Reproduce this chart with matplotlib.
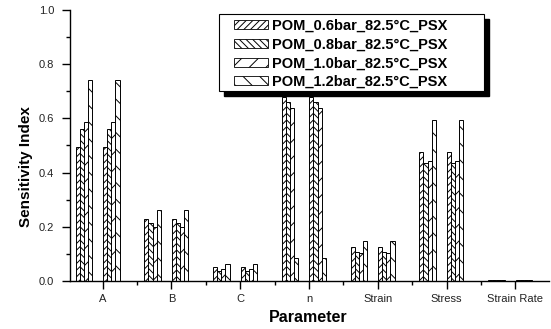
"""
plot.py - grouped, hatched bar chart of sensitivity index per model parameter
for four POM pressure settings (each series drawn twice per parameter slot).
"""

import numpy as np
import matplotlib
matplotlib.use("Agg")
import matplotlib.pyplot as plt
from matplotlib.patches import Patch, Rectangle
from matplotlib.ticker import FixedLocator, MultipleLocator, FormatStrFormatter

plt.rcParams["font.family"] = ["Liberation Sans", "DejaVu Sans"]
plt.rcParams["hatch.linewidth"] = 0.7

# ---------------------------------------------------------------------------
# Data
# ---------------------------------------------------------------------------

parameters = ["A", "B", "C", "n", "Strain", "Stress", "Strain Rate"]

series_labels = [
    "POM_0.6bar_82.5°C_PSX",
    "POM_0.8bar_82.5°C_PSX",
    "POM_1.0bar_82.5°C_PSX",
    "POM_1.2bar_82.5°C_PSX",
]

si_06bar = [0.493, 0.229, 0.052, 0.678, 0.124, 0.475, 0.002]
si_08bar = [0.560, 0.213, 0.037, 0.662, 0.108, 0.437, 0.002]
si_10bar = [0.587, 0.198, 0.043, 0.637, 0.102, 0.443, 0.002]
si_12bar = [0.740, 0.261, 0.062, 0.086, 0.148, 0.594, 0.002]

series_values = [si_06bar, si_08bar, si_10bar, si_12bar]
hatches = ["/////", "\\\\\\\\\\", "//", "\\\\"]

# ---------------------------------------------------------------------------
# Plot
# ---------------------------------------------------------------------------

fig = plt.figure(figsize=(5.51, 3.29), dpi=100)
ax = fig.add_axes([70 / 551, 48 / 329, 479 / 551, 271 / 329])

x = np.arange(1, len(parameters) + 1)
bar_w = 0.06
group_starts = [-0.395, 0.005]   # each parameter slot holds the four series twice

for start in group_starts:
    for i, (vals, hatch) in enumerate(zip(series_values, hatches)):
        ax.bar(x + start + (i + 0.5) * bar_w, vals, width=bar_w,
               facecolor="white", edgecolor="black", linewidth=0.7,
               hatch=hatch, zorder=2)

ax.set_xlim(0.525, 7.49)
ax.set_ylim(0, 1.0)

for side in ("top", "right"):
    ax.spines[side].set_visible(False)
for side in ("left", "bottom"):
    ax.spines[side].set_linewidth(1.0)

ax.yaxis.set_major_locator(MultipleLocator(0.2))
ax.yaxis.set_minor_locator(MultipleLocator(0.1))
ax.yaxis.set_major_formatter(FormatStrFormatter("%.1f"))
ax.set_xticks(x)
ax.set_xticklabels(parameters)
ax.xaxis.set_minor_locator(FixedLocator(np.arange(0.5, 8.0, 1.0)))

ax.tick_params(axis="both", which="major", direction="out", length=5.5,
               width=1.0, labelsize=8, colors="black")
ax.tick_params(axis="both", which="minor", direction="out", length=3, width=1.0)
ax.tick_params(axis="y", which="major", pad=6)
ax.tick_params(axis="x", which="major", pad=4)
for lbl in ax.get_xticklabels() + ax.get_yticklabels():
    lbl.set_color("#222222")

ax.set_ylabel("Sensitivity Index", fontsize=11, fontweight="bold")
ax.yaxis.set_label_coords(-0.077, 0.424)
ax.set_xlabel("Parameter", fontsize=11.5, fontweight="bold")
ax.xaxis.set_label_coords(0.497, -0.108)

# legend box with a solid drop shadow, drawn by hand
box_x, box_y, box_w, box_h = 0.311, 0.701, 0.553, 0.284
ax.add_patch(Rectangle((box_x + 0.0104, box_y - 0.0185), box_w, box_h,
                       transform=ax.transAxes, facecolor="black",
                       edgecolor="black", clip_on=False, zorder=5))
ax.add_patch(Rectangle((box_x, box_y), box_w, box_h,
                       transform=ax.transAxes, facecolor="white",
                       edgecolor="black", linewidth=0.8, clip_on=False, zorder=5))

handles = [Patch(facecolor="white", edgecolor="black", linewidth=0.6, hatch=h)
           for h in hatches]
leg = ax.legend(handles, series_labels, loc="upper left",
                bbox_to_anchor=(0.342, 0.967), borderaxespad=0, borderpad=0,
                frameon=False, handlelength=2.35, handleheight=0.56,
                handletextpad=0.3, labelspacing=0.32,
                prop={"size": 10.5, "weight": "bold"})
leg.set_zorder(6)

fig.savefig("out.png", dpi=100)
